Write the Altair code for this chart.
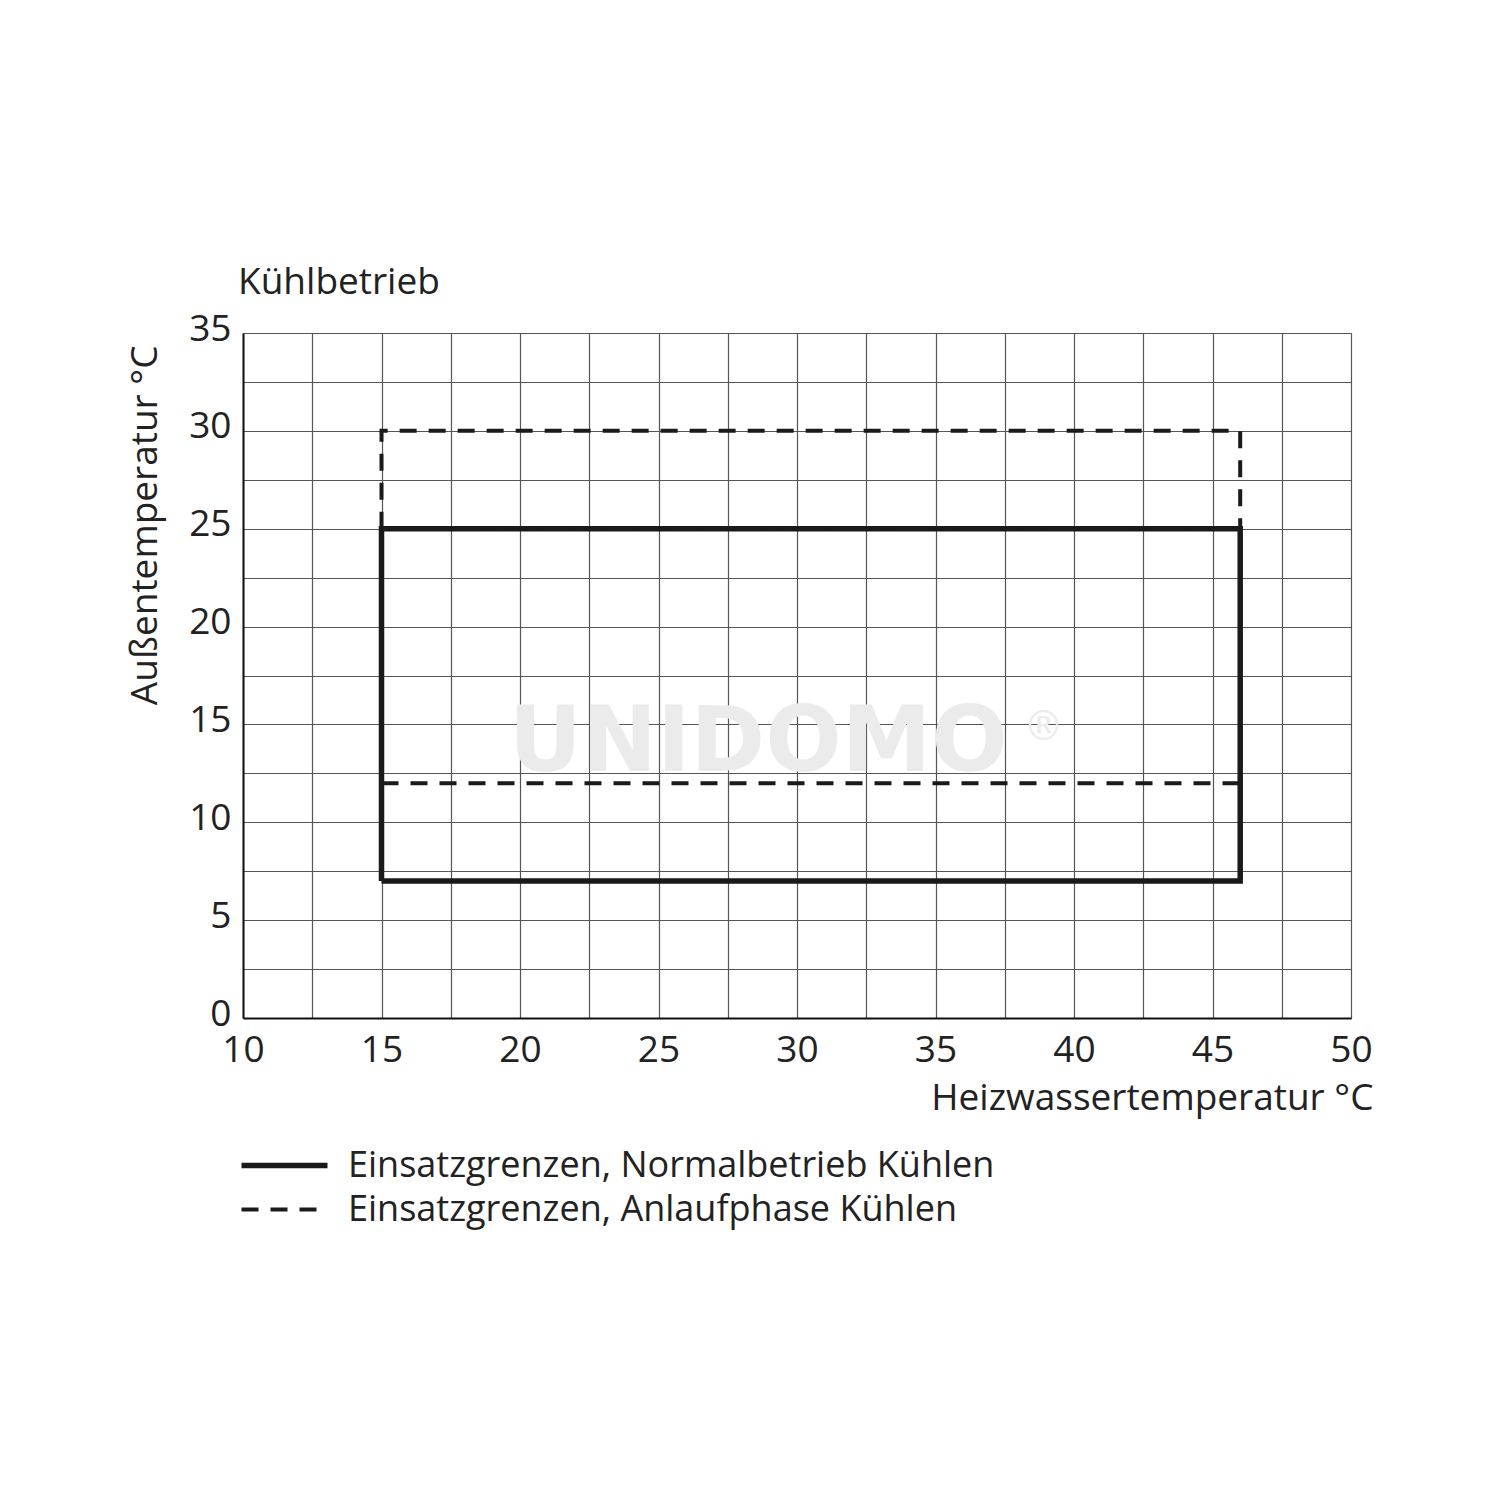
import altair as alt
import pandas as pd

# --- data ---
series_names = ["Einsatzgrenzen, Normalbetrieb Kühlen", "Einsatzgrenzen, Anlaufphase Kühlen"]

normal_x = [15, 46, 46, 15, 15]
normal_y = [7, 7, 25, 25, 7]

anlauf_top_x = [15, 15, 46, 46]
anlauf_top_y = [25, 30, 30, 25]
anlauf_low_x = [15, 46]
anlauf_low_y = [12, 12]

x_grid = [10, 12.5, 15, 17.5, 20, 22.5, 25, 27.5, 30, 32.5, 35, 37.5, 40, 42.5, 45, 47.5, 50]
y_grid = [0, 2.5, 5, 7.5, 10, 12.5, 15, 17.5, 20, 22.5, 25, 27.5, 30, 32.5, 35]

rows = []
for i, (x, y) in enumerate(zip(normal_x, normal_y)):
    rows.append({"x": x, "y": y, "series": series_names[0], "seg": "n", "o": i})
for i, (x, y) in enumerate(zip(anlauf_top_x, anlauf_top_y)):
    rows.append({"x": x, "y": y, "series": series_names[1], "seg": "a1", "o": i})
for i, (x, y) in enumerate(zip(anlauf_low_x, anlauf_low_y)):
    rows.append({"x": x, "y": y, "series": series_names[1], "seg": "a2", "o": i})
df = pd.DataFrame(rows)

FONT = "Open Sans"
FS = 37
W, H = 1108, 685

xs = alt.Scale(domain=[10, 50], nice=False, zero=False)
ys = alt.Scale(domain=[0, 35], nice=False, zero=False)

x_axis = alt.Axis(
    values=x_grid,
    labelExpr="datum.value % 5 == 0 ? datum.label : ''",
    title="Heizwassertemperatur °C",
    titleX=W + 22, titleY=80, titleAlign="right", titleBaseline="middle",
    titleFontSize=FS, titleFontWeight="normal", titleFont=FONT, titleColor="#222",
    labelFontSize=FS, labelFont=FONT, labelColor="#222", labelPadding=14,
    tickSize=0, grid=True, gridColor="#555", gridWidth=1.2,
    domainColor="#111", domainWidth=2, labelFlush=False, labelOverlap=False,
)
y_axis = alt.Axis(
    values=y_grid,
    labelExpr="datum.value % 5 == 0 ? datum.label : ''",
    title="Außentemperatur °C",
    titleX=-98, titleY=12, titleAlign="right", titleBaseline="middle",
    titleFontSize=FS, titleFontWeight="normal", titleFont=FONT, titleColor="#222",
    labelFontSize=FS, labelFont=FONT, labelColor="#222", labelPadding=12,
    labelOffset=-4,
    tickSize=0, grid=True, gridColor="#555", gridWidth=1.2,
    domainColor="#111", domainWidth=2, labelFlush=False, labelOverlap=False,
)

wm = pd.DataFrame({"x": [28.6], "y": [14.0], "t": ["UNIDOMO"]})
wm2 = pd.DataFrame({"x": [38.9], "y": [14.8], "t": ["®"]})

watermark = alt.Chart(wm).mark_text(
    font="DejaVu Sans", fontWeight="bold", fontSize=90, color="#ebebeb"
).encode(x=alt.X("x:Q", scale=xs, axis=x_axis), y=alt.Y("y:Q", scale=ys, axis=y_axis), text="t:N")
watermark2 = alt.Chart(wm2).mark_text(
    font="DejaVu Sans", fontSize=40, color="#ebebeb"
).encode(x=alt.X("x:Q", scale=xs), y=alt.Y("y:Q", scale=ys), text="t:N")

base = alt.Chart(df).encode(
    x=alt.X("x:Q", scale=xs, axis=x_axis),
    y=alt.Y("y:Q", scale=ys, axis=y_axis),
    detail="seg:N",
    order="o:Q",
)

legend = alt.Legend(
    title=None, orient="none", legendX=17, legendY=808,
    symbolType="M-2,0H2", symbolSize=1849, symbolStrokeColor="#1a1a1a",
    symbolFillColor="transparent",
    labelFontSize=36, labelFont=FONT, labelColor="#222", labelOffset=39,
    rowPadding=2, labelLimit=1000, symbolStrokeWidth=5,
)

lines = base.mark_line(color="#1a1a1a").encode(
    strokeDash=alt.StrokeDash(
        "series:N",
        scale=alt.Scale(domain=series_names, range=[[1, 0], [17, 12]]),
        legend=legend,
        sort=series_names,
    ),
    strokeWidth=alt.StrokeWidth(
        "series:N",
        scale=alt.Scale(domain=series_names, range=[5.5, 4]),
        legend=None,
    ),
)

chart = alt.layer(watermark, watermark2, lines).properties(
    width=W, height=H,
    title=alt.TitleParams("Kühlbetrieb", anchor="start", frame="group", font=FONT, fontSize=FS,
                          fontWeight="normal", color="#222", offset=8, dx=-5),
    padding={"left": 235, "top": 325, "right": 140, "bottom": 300},
    autosize=alt.AutoSizeParams(type="none"),
).configure_view(stroke="#555", strokeWidth=1.2).configure(background="white")

chart.save("out.html", embed_options={"renderer": "svg", "actions": False})
